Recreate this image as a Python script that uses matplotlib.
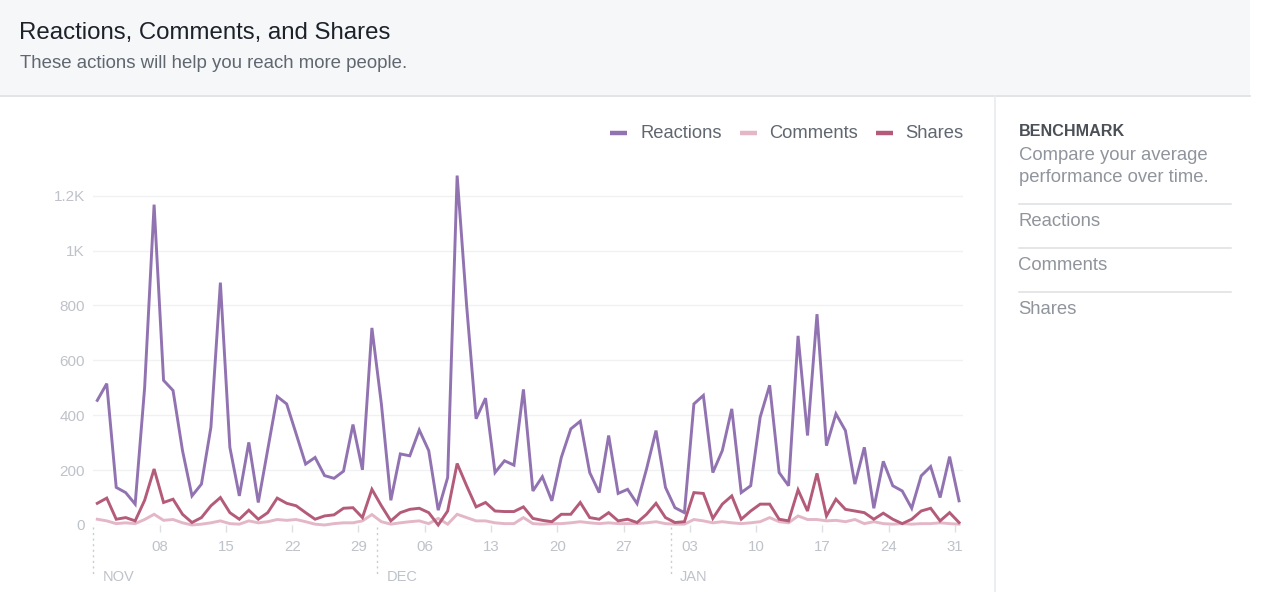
import numpy as np
import pandas as pd
import matplotlib
matplotlib.use("Agg")
import matplotlib.pyplot as plt
from matplotlib.lines import Line2D
from matplotlib.patches import Rectangle
import matplotlib.transforms as mtransforms

plt.rcParams['font.family'] = ['Liberation Sans', 'DejaVu Sans']

# ---------------- data ----------------
start_date = "2016-11-01"
reactions = [454, 515, 137, 118, 76, 500, 1167, 527, 490, 271,
             106, 149, 356, 883, 283, 106, 301, 82, 275, 468,
             441, 332, 222, 246, 180, 170, 196, 366, 201, 718,
             441, 90, 259, 252, 346, 271, 54, 173, 1273, 800,
             387, 462, 191, 234, 218, 494, 124, 176, 88, 246,
             350, 378, 191, 118, 326, 115, 130, 78, 204, 344,
             137, 63, 45, 441, 472, 191, 271, 423, 118, 143,
             393, 509, 191, 143, 689, 326, 768, 289, 405, 344,
             149, 283, 61, 232, 143, 124, 61, 179, 213, 100,
             249, 88]
comments = [21, 15, 5, 8, 5, 20, 39, 17, 20, 8,
            0, 3, 8, 15, 5, 3, 15, 8, 12, 20,
            17, 20, 12, 3, 0, 5, 8, 8, 15, 38,
            12, 3, 8, 12, 15, 5, 24, 3, 39, 27,
            15, 15, 8, 5, 5, 27, 5, 3, 5, 5,
            8, 12, 8, 5, 8, 5, 5, 5, 8, 12,
            5, 3, 3, 20, 15, 8, 12, 8, 5, 8,
            12, 27, 12, 8, 33, 20, 20, 15, 17, 12,
            20, 5, 12, 5, 3, 5, 3, 5, 5, 8,
            5, 3]
shares = [79, 98, 21, 27, 15, 90, 204, 82, 94, 39,
          9, 27, 70, 100, 45, 21, 54, 21, 45, 98,
          79, 70, 45, 21, 33, 37, 61, 63, 27, 130,
          70, 15, 45, 57, 61, 45, 0, 51, 224, 143,
          66, 82, 51, 49, 49, 66, 24, 17, 12, 39,
          39, 82, 27, 21, 45, 15, 21, 9, 39, 79,
          27, 9, 12, 118, 115, 24, 76, 106, 21, 51,
          76, 76, 21, 15, 128, 51, 188, 33, 94, 57,
          51, 45, 21, 43, 21, 5, 21, 51, 61, 15,
          45, 9]
y_ticks = [0, 200, 400, 600, 800, 1000, 1200]
y_tick_labels = ["0", "200", "400", "600", "800", "1K", "1.2K"]
series_names = ["Reactions", "Comments", "Shares"]
series_colors = ["#9273b1", "#e3b7c8", "#b45b79"]
side_items = ["Reactions", "Comments", "Shares"]

# ---------------- figure ----------------
W, H = 1267, 592
fig = plt.figure(figsize=(W / 100, H / 100), dpi=100)
fig.patch.set_facecolor("white")

def fx(px):
    return px / W

def fy(py):
    return 1 - py / H

# header band
fig.add_artist(Rectangle((0, fy(95)), fx(1250), 95 / H, transform=fig.transFigure,
                         facecolor="#f6f7f9", edgecolor="none", zorder=0))
fig.add_artist(Line2D([0, fx(1250)], [fy(95.5), fy(95.5)], transform=fig.transFigure,
                      color="#dddfe2", lw=1.2))
fig.text(fx(19), fy(33), "Reactions, Comments, and Shares", fontsize=17.3,
         color="#1d2129", va="center", ha="left")
fig.text(fx(20), fy(64), "These actions will help you reach more people.", fontsize=13.4,
         color="#606770", va="center", ha="left")

# right panel
fig.add_artist(Line2D([fx(995), fx(995)], [fy(96), 0], transform=fig.transFigure,
                      color="#e9ebee", lw=1.2))
fig.text(fx(1019), fy(131), "BENCHMARK", fontsize=11.6, fontweight="bold",
         color="#4b4f56", va="center", ha="left")
fig.text(fx(1019), fy(155), "Compare your average", fontsize=13.3,
         color="#90949c", va="center", ha="left")
fig.text(fx(1019), fy(178), "performance over time.", fontsize=13.3,
         color="#90949c", va="center", ha="left")
for k, name in enumerate(side_items):
    ly = 204 + 44 * k
    fig.add_artist(Line2D([fx(1019), fx(1231)], [fy(ly), fy(ly)], transform=fig.transFigure,
                          color="#dddfe2", lw=1.1))
    fig.text(fx(1018), fy(ly + 18), name, fontsize=13.3, color="#90949c",
             va="center", ha="left")

# ---------------- chart axes ----------------
ax_left, ax_right, ax_top, ax_bottom = 93.3, 963, 168, 525
ax = fig.add_axes([fx(ax_left), fy(ax_bottom), fx(ax_right - ax_left), (ax_bottom - ax_top) / H])
ax.set_facecolor("none")

dates = pd.date_range(start_date, periods=len(reactions), freq="D")
t0 = pd.Timestamp(start_date)
px_per_day = 9.47
day_offset = 0.42  # points sit slightly after midnight (time-zone shift)
xdays = np.asarray((dates - t0).days, dtype=float) + day_offset

for vals, name, col, z in [(comments, "Comments", series_colors[1], 3),
                           (shares, "Shares", series_colors[2], 4),
                           (reactions, "Reactions", series_colors[0], 5)]:
    ax.plot(xdays, vals, color=col, lw=2.1, zorder=z, clip_on=False,
            solid_joinstyle="miter")

ax.set_xlim(0, (ax_right - ax_left) / px_per_day)
ax.set_ylim(0, (ax_bottom - ax_top) / 0.2745)

for s in ax.spines.values():
    s.set_visible(False)
ax.set_yticks(y_ticks)
ax.set_yticklabels(y_tick_labels)
ax.tick_params(axis="y", length=0, pad=6, labelsize=11, labelcolor="#bec2c9")
ax.grid(axis="y", color="#f0f1f3", lw=1.0, zorder=0)
ax.set_axisbelow(True)

# x ticks: every 7 days starting 2016-11-08
tick_dates = pd.date_range("2016-11-08", dates[-1], freq="7D")
tick_pos = np.asarray((tick_dates - t0).days, dtype=float)
ax.set_xticks(tick_pos)
ax.set_xticklabels([d.strftime("%d") for d in tick_dates])
ax.tick_params(axis="x", length=5, width=1, color="#dddfe2", pad=6,
               labelsize=10.8, labelcolor="#bec2c9")

# month separators
blend = mtransforms.blended_transform_factory(ax.transData, ax.transAxes)
hpx = ax_bottom - ax_top
month_starts = pd.date_range(start_date, dates[-1], freq="MS")
for m in month_starts:
    d = (m - t0).days
    ax.plot([d, d], [-2 / hpx, -50 / hpx], transform=blend, color="#c8ccd2",
            lw=1.0, ls=(0, (1.5, 2.5)), clip_on=False)
    ax.text(d + 9 / px_per_day, -52 / hpx, m.strftime("%b").upper(), transform=blend,
            fontsize=10.5, color="#bec2c9", ha="left", va="center")

# legend (custom, top right)
leg_items = [(610, 640, series_names[0], series_colors[0]),
             (740, 769, series_names[1], series_colors[1]),
             (876, 905, series_names[2], series_colors[2])]
for lx, tx, name, col in leg_items:
    fig.add_artist(Line2D([fx(lx), fx(lx + 17)], [fy(133), fy(133)], transform=fig.transFigure,
                          color=col, lw=3.2, solid_capstyle="butt"))
    fig.text(fx(tx), fy(133), name, fontsize=13.2, color="#606770", va="center", ha="left")

fig.savefig("out.png", dpi=100)
